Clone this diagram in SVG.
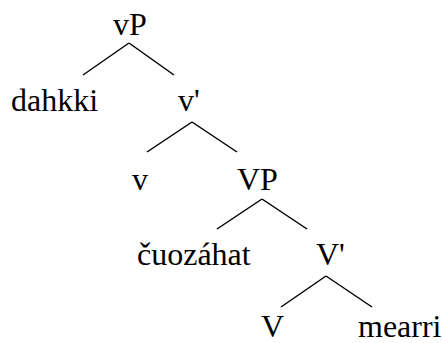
<svg xmlns="http://www.w3.org/2000/svg" width="442" height="343" viewBox="0 0 442 343">
<style>
.t{font-size:32px;fill:#000}
.e line{stroke:#000;stroke-width:1.5;fill:none}
</style>
<rect width="442" height="343" fill="#fff"/>
<g class="e" id="edges">
<line x1="129" y1="43" x2="83" y2="75"/>
<line x1="129" y1="43" x2="174" y2="75"/>
<line x1="192" y1="122" x2="147" y2="152"/>
<line x1="192" y1="122" x2="237" y2="152"/>
<line x1="262" y1="199" x2="217" y2="229"/>
<line x1="262" y1="199" x2="307" y2="229"/>
<line x1="326" y1="276" x2="281" y2="307"/>
<line x1="326" y1="276" x2="372" y2="307"/>
</g>
<g class="t" font-family="'Times New Roman', Tinos, 'Nimbus Roman', 'Nimbus Roman No9 L', FreeSerif, 'Noto Serif', 'Liberation Serif', 'DejaVu Serif', serif">
<g id="vP"><text x="113" y="35">vP</text></g>
<g id="dahkki"><text x="11" y="111">dahkki</text></g>
<g id="vbar"><text x="178" y="111">v'</text></g>
<g id="v"><text x="132" y="190">v</text></g>
<g id="VP"><text x="237" y="190">VP</text></g>
<g id="cuozahat"><text x="137" y="265">čuozáhat</text></g>
<g id="Vbar"><text x="316" y="265">V'</text></g>
<g id="V"><text x="261" y="337">V</text></g>
<g id="mearri"><text x="358" y="337">mearri</text></g>
</g>
</svg>
